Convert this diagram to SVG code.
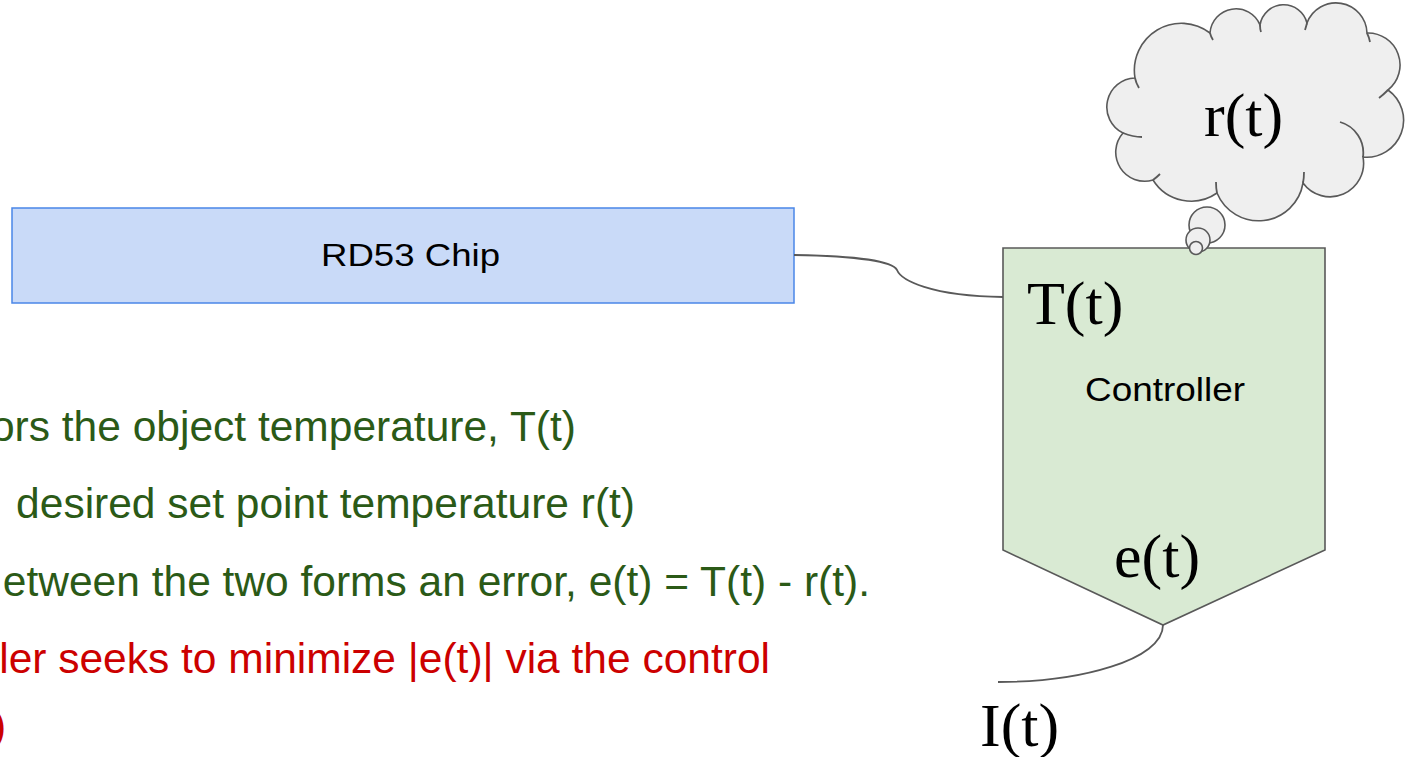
<svg xmlns="http://www.w3.org/2000/svg" width="1409" height="757" viewBox="0 0 1409 757">
<style>
.sans{font-family:"Liberation Sans",Arial,sans-serif}
.serif{font-family:"Liberation Serif","Times New Roman",serif;font-size:62px;fill:#000}
.green{fill:#2b5a17;font-size:42.5px}
.red{fill:#cc0000;font-size:42.5px}
.edge{fill:none;stroke:#595959;stroke-width:1.8}
.cloud{fill:#efefef;stroke:#595959;stroke-width:1.6}
</style>
<rect width="1409" height="757" fill="#fff"/>
<g id="chip">
<rect x="12" y="208" width="782" height="95" fill="#c9daf8" stroke="#4a86e8" stroke-width="1.5"/>
<text class="sans" x="321" y="266" font-size="32" textLength="179" lengthAdjust="spacingAndGlyphs">RD53 Chip</text>
</g>
<g id="controller">
<polygon points="1003,248 1325,248 1325,550 1163,625 1003,550" fill="#d9ead3" stroke="#595959" stroke-width="1.6"/>
<text class="serif" x="1027" y="324">T(t)</text>
<text class="sans" x="1085" y="401" font-size="34" textLength="160" lengthAdjust="spacingAndGlyphs">Controller</text>
<text class="serif" x="1114" y="577">e(t)</text>
</g>
<g id="cloud">
<path class="cloud" d="M1135,78 A47,47 0 0 1 1210,33 A26,26 0 0 1 1260,25 A24,24 0 0 1 1307,23 A31,31 0 0 1 1367,33 A32,32 0 0 1 1388,90 A37,37 0 0 1 1363,157 A33.5,33.5 0 0 1 1303,183 A45,45 0 0 1 1217,193 A45,45 0 0 1 1153,180 A29,29 0 0 1 1123,133 A29,29 0 0 1 1135,78 Z"/>
<path class="edge" stroke-width="1.6" d="M1135,78 Q1136,83 1139,88 M1210,33 Q1211,37 1213,40 M1260,25 Q1260,29 1261,32 M1307,23 Q1306,27 1305,30 M1367,33 Q1369,37 1370,42 M1388,90 Q1383,95 1379,98 M1340,122 A32,32 0 0 1 1363,157 M1303,183 Q1304,178 1304,172 M1217,193 Q1216,188 1216,182 M1153,180 Q1157,177 1160,174 M1123,133 Q1133,137 1142,137"/>
<circle class="cloud" cx="1207" cy="225" r="18"/>
<circle class="cloud" cx="1198" cy="240" r="12"/>
<circle class="cloud" cx="1196" cy="248" r="6.5"/>
<text class="serif" x="1204" y="136">r(t)</text>
</g>
<g id="output">
<text class="serif" x="980" y="746">I(t)</text>
</g>
<g id="notes">
<text class="sans green" x="576" y="441" text-anchor="end">ors the object temperature, T(t)</text>
<text class="sans green" x="635" y="518" text-anchor="end">desired set point temperature r(t)</text>
<text class="sans green" x="870" y="596" text-anchor="end">etween the two forms an error, e(t) = T(t) - r(t).</text>
<text class="sans red" x="770" y="673" text-anchor="end">ler seeks to minimize |e(t)| via the control</text>
<text class="sans red" x="-8" y="740">)</text>
</g>
<g id="connectors">
<path class="edge" d="M794,255 C860,256 893,262 897,270 C901,280 930,296 1003,297"/>
<path class="edge" d="M1163,625 C1163,660 1080,682 998,682"/>
</g>
</svg>
